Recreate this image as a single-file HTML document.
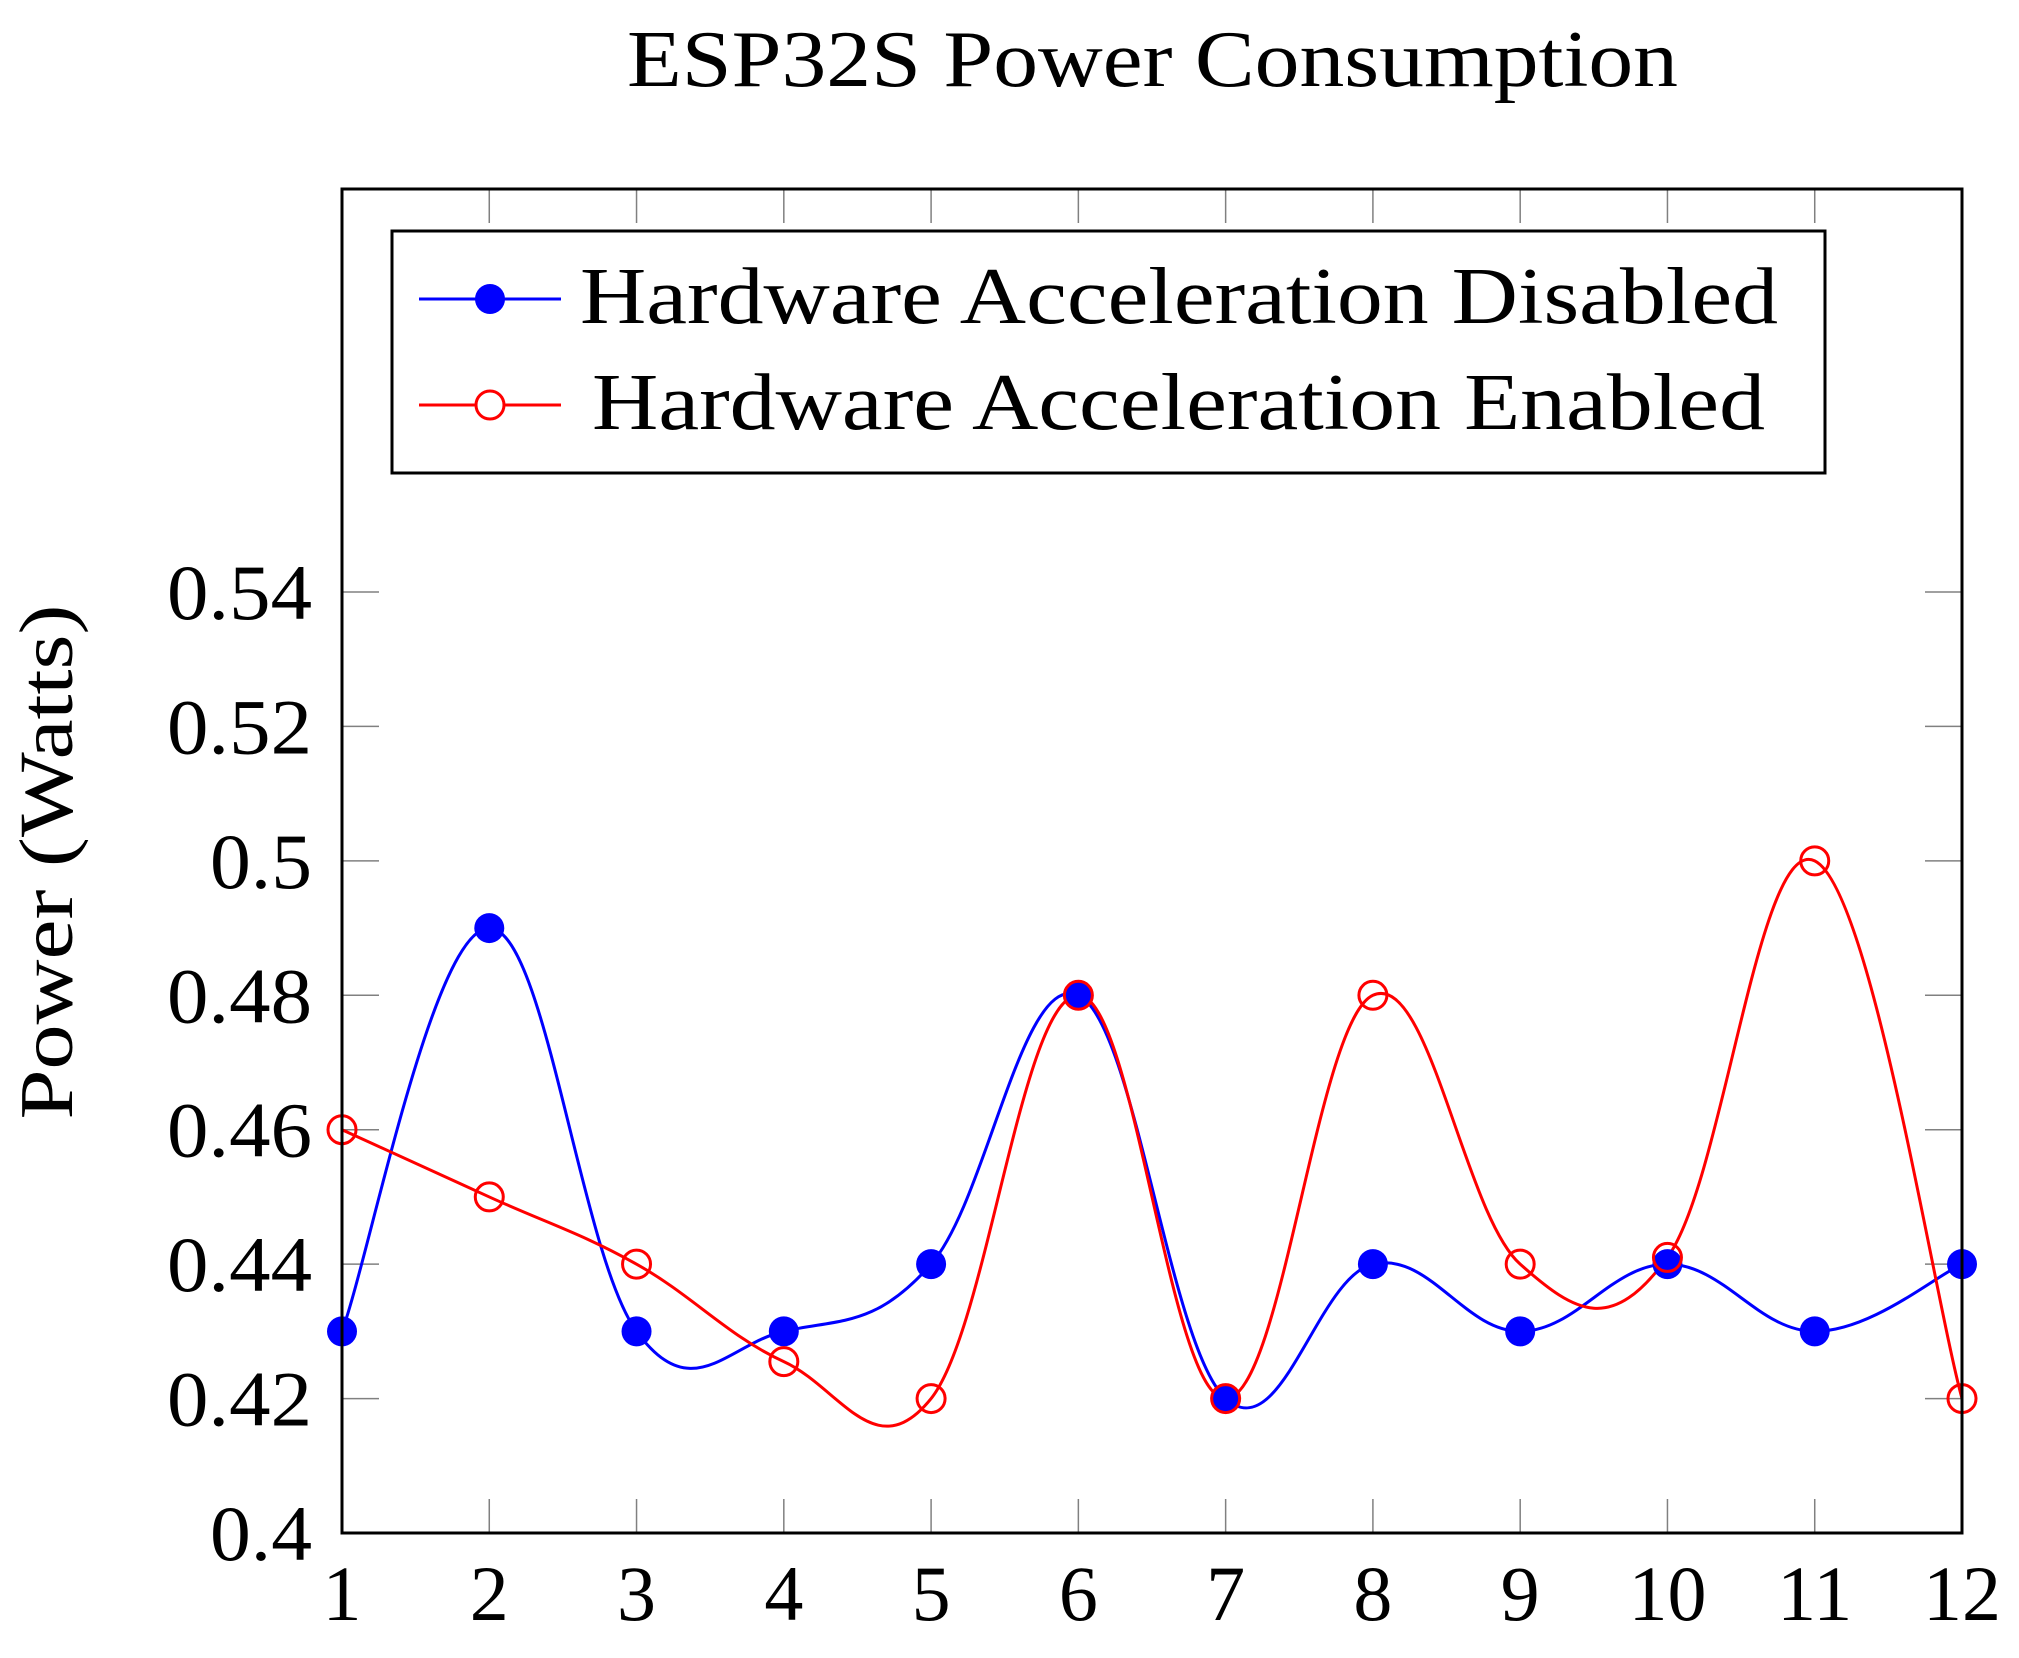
<!DOCTYPE html>
<html><head><meta charset="utf-8"><style>
html,body{margin:0;padding:0;background:#fff}
svg{display:block}
text{font-family:"Liberation Serif",serif;fill:#000}
</style></head><body>
<svg id="chart" width="2019" height="1658" viewBox="0 0 2019 1658">
<text x="627" y="86" font-size="80" textLength="1051" lengthAdjust="spacingAndGlyphs">ESP32S Power Consumption</text>
<text transform="translate(72,862) rotate(-90)" font-size="76" text-anchor="middle" textLength="515" lengthAdjust="spacingAndGlyphs">Power (Watts)</text>
<g id="grid"></g>
<g id="series"></g>
<rect x="342" y="189" width="1620" height="1344" fill="none" stroke="#000" stroke-width="3"/>
<g>
<rect x="392" y="231" width="1433" height="242" fill="#fff" stroke="#000" stroke-width="3"/>
<g>
<line x1="419" y1="299" x2="561" y2="299" stroke="#0000ff" stroke-width="3"/>
<circle cx="490" cy="299" r="15" fill="#0000ff"/>
<text x="580" y="323" font-size="80" textLength="1198" lengthAdjust="spacingAndGlyphs">Hardware Acceleration Disabled</text>
</g>
<g>
<line x1="419" y1="405" x2="561" y2="405" stroke="#ff0000" stroke-width="3"/>
<circle cx="490" cy="405" r="14" fill="#fff" stroke="#ff0000" stroke-width="3"/>
<text x="592" y="429" font-size="80" textLength="1173" lengthAdjust="spacingAndGlyphs">Hardware Acceleration Enabled</text>
</g>
</g>
</svg>
<script>
const categories = [1,2,3,4,5,6,7,8,9,10,11,12];
const disabledValues = [0.43,0.49,0.43,0.43,0.44,0.48,0.42,0.44,0.43,0.44,0.43,0.44];
const enabledValues = [0.46,0.45,0.44,0.4255,0.42,0.48,0.42,0.48,0.44,0.441,0.50,0.42];
const yTicks = [0.4,0.42,0.44,0.46,0.48,0.5,0.52,0.54];
const yTickLabels = ["0.4","0.42","0.44","0.46","0.48","0.5","0.52","0.54"];

const NS = "http://www.w3.org/2000/svg";
const X0=342, X1=1962, Y0=1533, Y1=592;
function xs(v){return X0+(v-1)*(X1-X0)/11;}
function ys(v){return Y0-(v-0.4)*(Y0-Y1)/0.14;}
function mk(tag,attrs,parent){const e=document.createElementNS(NS,tag);for(const k in attrs)e.setAttribute(k,attrs[k]);parent.appendChild(e);return e;}

const grid=document.getElementById('grid');
const svg=document.getElementById('chart');
categories.forEach(c=>{
  const x=xs(c);
  if(c>1&&c<12){
    const t1=mk('line',{x1:x,y1:Y0,x2:x,y2:Y0-34,stroke:'#808080','stroke-width':1.5},grid);
    
    
    const t2=mk('line',{x1:x,y1:189,x2:x,y2:223,stroke:'#808080','stroke-width':1.5},grid);
    
    
  }
  const lab=mk('text',{x:x,y:1620,'font-size':78,'text-anchor':'middle'},svg);
  lab.textContent=String(c);
  
  
});
yTicks.forEach((v,i)=>{
  const y=ys(v);
  if(i>0){
    const t1=mk('line',{x1:X0,y1:y,x2:X0+37,y2:y,stroke:'#808080','stroke-width':1.5},grid);
    
    
    const t2=mk('line',{x1:X1-37,y1:y,x2:X1,y2:y,stroke:'#808080','stroke-width':1.5},grid);
    
    
  }
  const lbl=yTickLabels[i];
  const w=lbl.length>3?145:102;
  const lab=mk('text',{x:312-w,y:y+27,'font-size':78,textLength:w,lengthAdjust:'spacingAndGlyphs'},svg);
  lab.textContent=lbl;
  
  
});

function smoothPath(vals){
  const p=vals.map((v,i)=>[xs(categories[i]),ys(v)]);
  let d='M'+p[0][0]+','+p[0][1];
  const k=0.19;
  for(let i=0;i<p.length-1;i++){
    const a=p[i-1]||p[i], b=p[i], c=p[i+1], e=p[i+2]||p[i+1];
    const c1=[b[0]+(c[0]-a[0])*k, b[1]+(c[1]-a[1])*k];
    const c2=[c[0]-(e[0]-b[0])*k, c[1]-(e[1]-b[1])*k];
    d+=' C'+c1[0]+','+c1[1]+' '+c2[0]+','+c2[1]+' '+c[0]+','+c[1];
  }
  return d;
}
const sg=document.getElementById('series');
const lineD=mk('path',{d:smoothPath(disabledValues),fill:'none',stroke:'#0000ff','stroke-width':3},sg);


const lineE=mk('path',{d:smoothPath(enabledValues),fill:'none',stroke:'#ff0000','stroke-width':3},sg);


disabledValues.forEach((v,i)=>{
  const c=mk('circle',{cx:xs(categories[i]),cy:ys(v),r:15,fill:'#0000ff'},sg);
  
  
});
enabledValues.forEach((v,i)=>{
  const c=mk('circle',{cx:xs(categories[i]),cy:ys(v),r:14,fill:'none',stroke:'#ff0000','stroke-width':3},sg);
  
  
});
</script>
</body></html>
